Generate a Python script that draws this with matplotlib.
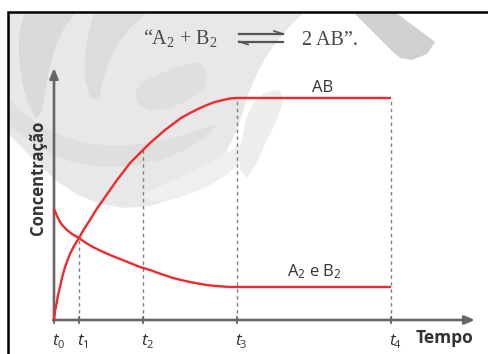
import matplotlib
matplotlib.use("Agg")
import matplotlib.pyplot as plt
from matplotlib.patches import Polygon

# ---- data (time offsets and concentrations, arbitrary units) ----
tick_subs = ["0", "1", "2", "3", "4"]
tick_times = [0, 25, 89, 183, 337]

ab_time = [0, 1, 2.7, 4, 6, 8, 11, 16, 20, 25, 30, 36, 42, 49, 56, 63, 70, 76, 83,
           89, 96, 103, 111, 119, 127, 136, 144, 153, 161, 169, 176, 183, 337]
ab_conc = [0, 9, 17, 25, 33, 42, 53, 66, 74, 82, 91, 100, 110, 120, 130, 140, 149, 157, 164,
           170, 177, 183, 190, 196, 202, 207, 211, 215, 218, 220, 221.5, 222, 222]

a2_time = [0, 3, 6, 9, 13, 18, 25, 32, 39, 47, 56, 66, 76, 86, 96, 107, 119, 127, 136,
           144, 153, 161, 169, 176, 183, 337]
a2_conc = [111, 104, 98, 94, 90, 86, 82, 77, 73, 69, 65, 61, 57, 53, 50, 46, 42, 40, 38,
           36.5, 35, 34, 33.5, 33, 33, 33]

dash_top = [82, 170, 222, 222]  # heights of dashed guides at t1..t4

RED = "#ee2a2f"
AXC = "#666666"
TXT = "#333333"
EQC = "#474747"

plt.rcParams["mathtext.fontset"] = "custom"
plt.rcParams["mathtext.rm"] = "Open Sans"
plt.rcParams["mathtext.it"] = "Open Sans:italic"

W, H = 488, 354
fig = plt.figure(figsize=(W / 100, H / 100), dpi=100)
ax = fig.add_axes([0, 0, 1, 1])
OX, OY = 54, 320  # pixel of origin
ax.set_xlim(-OX, W - OX)
ax.set_ylim(OY - H, OY)
ax.axis("off")


def P(px, py):
    return (px - OX, OY - py)


def poly(pts, color, z=0, alpha=1.0):
    ax.add_patch(Polygon([P(*p) for p in pts], closed=True, facecolor=color,
                         edgecolor="none", zorder=z, alpha=alpha))


# ---- watermark background ----
poly([(8, 12), (305, 12), (296, 20), (284, 33), (272, 48), (263, 62), (255, 78), (248, 95),
      (243, 112), (236, 132), (226, 152), (212, 170), (195, 186), (175, 198), (150, 206),
      (125, 208), (100, 204), (78, 195), (58, 182), (40, 166), (24, 150), (8, 133)], "#e8e8e8")
poly([(24, 12), (76, 12), (64, 28), (55, 48), (49, 70), (45, 92), (42, 112), (36, 118),
      (28, 104), (22, 82), (19, 58), (19, 35)], "#dadada")
poly([(94, 12), (148, 12), (132, 26), (118, 44), (108, 64), (102, 84), (99, 100), (90, 98),
      (85, 80), (85, 58), (88, 35)], "#dcdcdc")
poly([(8, 98), (22, 112), (40, 126), (62, 136), (90, 144), (120, 146), (150, 143),
      (180, 136), (205, 128), (218, 124), (205, 138), (185, 150), (160, 160), (130, 166),
      (100, 167), (72, 162), (48, 152), (26, 138), (8, 124)], "#dddddd", alpha=0.8)
poly([(140, 84), (158, 74), (180, 66), (200, 62), (208, 72), (204, 88), (190, 100),
      (170, 108), (150, 111), (138, 104), (135, 94)], "#d9d9d9", alpha=0.55)
poly([(140, 196), (165, 184), (195, 170), (222, 156), (245, 142), (252, 140), (244, 158),
      (228, 174), (205, 188), (178, 198), (155, 202)], "#efefef")
poly([(353, 12), (395, 12), (435, 42), (427, 54), (412, 60), (400, 58), (393, 52)], "#d0d0d0")
poly([(246, 118), (254, 102), (266, 92), (280, 90), (283, 102), (276, 122), (266, 142),
      (256, 165), (247, 178), (240, 170), (241, 145)], "#ededed")
# white strip outside border
poly([(0, 0), (488, 0), (488, 11), (8, 11), (8, 354), (0, 354)], "white", z=1)

# border
bx = [P(8, 354)[0], P(8, 12)[0], P(488, 12)[0]]
by = [P(8, 354)[1], P(8, 12)[1], P(488, 12)[1]]
ax.plot(bx, by, color="black", lw=1.8, zorder=5, solid_capstyle="butt",
        solid_joinstyle="miter")

# ---- axes arrows ----
arrow = dict(arrowstyle="-|>,head_length=0.6,head_width=0.25", color=AXC, lw=1.9,
             shrinkA=0, shrinkB=0)
ax.annotate("", xy=(0, 252), xytext=(0, -1), arrowprops=arrow, zorder=3)
ax.annotate("", xy=(421, 0), xytext=(-1, 0), arrowprops=arrow, zorder=3)

# ticks & labels
for t, s in zip(tick_times, tick_subs):
    ax.plot([t, t], [-3, 3], color=AXC, lw=1.3, zorder=3)
    ax.text(t - 2, -25, "t", fontsize=12.5, family="Open Sans", style="italic",
            color=TXT, ha="left", va="baseline", zorder=4)
    ax.text(t + 3, -28, s, fontsize=8, family="Open Sans",
            color=TXT, ha="left", va="baseline", zorder=4)

# dashed guides
for t, h in zip(tick_times[1:], dash_top):
    ax.plot([t, t], [0, h], color="#808080", lw=1.0, ls=(0, (2.5, 2.5)), zorder=2)

# ---- curves ----
ax.plot(ab_time, ab_conc, color=RED, lw=1.7, zorder=4, solid_capstyle="butt",
        solid_joinstyle="round")
ax.plot(a2_time, a2_conc, color=RED, lw=1.7, zorder=4, solid_capstyle="butt",
        solid_joinstyle="round")

# ---- texts ----
ax.text(269, 232.5, "AB", fontsize=12, family="Open Sans", color=TXT,
        ha="center", va="center")
ax.text(260, 48, r"A$_2$ e B$_2$", fontsize=12, family="Open Sans", color=TXT,
        ha="center", va="center")
ax.text(390, -18, "Tempo", fontsize=12.5, family="Open Sans", fontweight="bold",
        color=TXT, ha="center", va="center")
ax.text(-15.5, 142, "Concentração", fontsize=12, family="Open Sans", fontweight="bold",
        color=TXT, ha="center", va="center", rotation=90)

# equation at top
serif = "Liberation Serif"
ax.text(*P(143, 45), r"“A$_\mathregular{2}$ + B$_\mathregular{2}$", fontsize=14.5,
        family=serif, color=EQC, ha="left", va="baseline", zorder=6)
ax.text(*P(302, 45), "2 AB”.", fontsize=14.5, family=serif, color=EQC,
        ha="left", va="baseline", zorder=6)
# equilibrium harpoons
x0, x1 = P(239, 0)[0], P(283, 0)[0]
ya, yb = P(0, 34)[1], P(0, 41.5)[1]
ax.plot([x0, x1], [ya, ya], color="#555555", lw=1.6, zorder=6)
ax.plot([x1 - 9, x1], [ya + 3, ya], color="#555555", lw=1.2, zorder=6)
ax.plot([x0, x1], [yb, yb], color="#555555", lw=1.6, zorder=6)
ax.plot([x0, x0 + 9], [yb, yb - 3], color="#555555", lw=1.2, zorder=6)

fig.savefig("out.png", dpi=100)
